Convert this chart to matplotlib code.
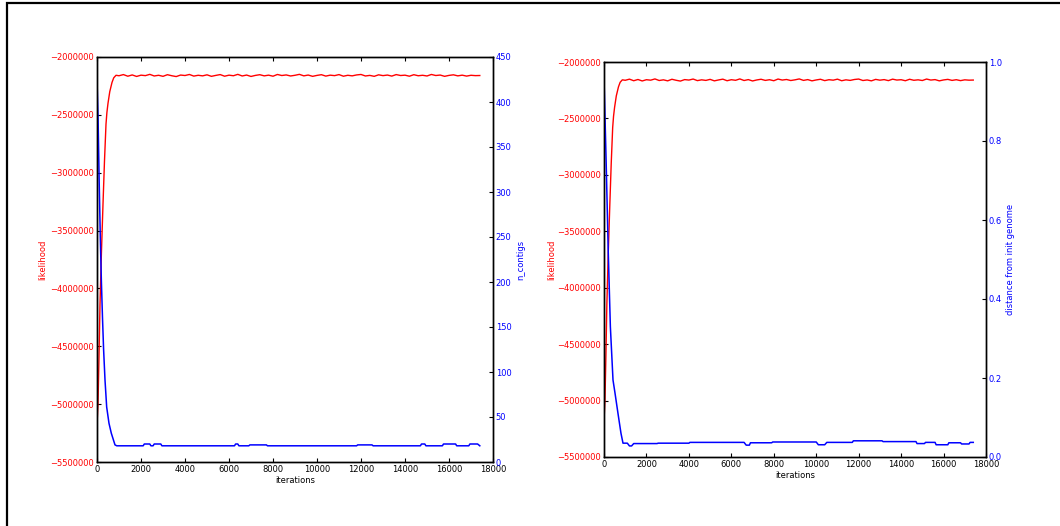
import matplotlib
matplotlib.use('Agg')
import matplotlib.pyplot as plt
from matplotlib.patches import Rectangle

# likelihood (in thousands) vs iterations, same run on both panels
lik_iter = [0, 45, 90, 136, 200, 273, 340, 409, 450, 500, 580, 682, 760, 864,
            1000, 1200, 1400, 1600, 1800, 2000, 2200, 2400, 2600, 2800, 3000,
            3200, 3400, 3600, 3800, 4000, 4200, 4400, 4600, 4800, 5000, 5200,
            5400, 5600, 5800, 6000, 6200, 6400, 6600, 6800, 7000, 7200, 7400,
            7600, 7800, 8000, 8200, 8400, 8600, 8800, 9000, 9200, 9400, 9600,
            9800, 10000, 10200, 10400, 10600, 10800, 11000, 11200, 11400,
            11600, 11800, 12000, 12200, 12400, 12600, 12800, 13000, 13200,
            13400, 13600, 13800, 14000, 14200, 14400, 14600, 14800, 15000,
            15200, 15400, 15600, 15800, 16000, 16200, 16400, 16600, 16800,
            17000, 17200, 17400]
lik_k = [-5180, -5000, -4600, -4140, -3700, -3270, -2900, -2580, -2480, -2400,
         -2300, -2220, -2180, -2158,
         -2162, -2152, -2166, -2155, -2168, -2157, -2161, -2150, -2164, -2158,
         -2167, -2153, -2162, -2169, -2156, -2160, -2151, -2165, -2158, -2163,
         -2154, -2167, -2159, -2152, -2166, -2157, -2162, -2150, -2164, -2156,
         -2168, -2159, -2153, -2163, -2157, -2166, -2151, -2160, -2155, -2164,
         -2158, -2150, -2163, -2156, -2167, -2159, -2153, -2165, -2157, -2161,
         -2152, -2166, -2158, -2163, -2155, -2151, -2164, -2159, -2167, -2154,
         -2161, -2156, -2165, -2152, -2160, -2157, -2166, -2153, -2162, -2158,
         -2164, -2151, -2160, -2156, -2167, -2159, -2154, -2163, -2157, -2165,
         -2158, -2161, -2160]

# n_contigs (left panel)
nc_iter = [0, 50, 100, 150, 200, 250, 300, 364, 440, 545, 650, 818, 900,
           2100, 2150, 2400, 2450, 2550, 2600, 2650, 2900, 2950,
           6250, 6300, 6400, 6450, 6900, 6950, 7700, 7750,
           11800, 11850, 12500, 12550, 14700, 14750, 14900, 14950,
           15700, 15750, 16300, 16350, 16900, 16950, 17300, 17400]
n_contigs = [425, 380, 310, 250, 200, 160, 125, 91, 61, 43, 32, 19, 18,
             18, 20, 20, 18, 18, 20, 20, 20, 18,
             18, 20, 20, 18, 18, 19, 19, 18,
             18, 19, 19, 18, 18, 20, 20, 18,
             18, 20, 20, 18, 18, 20, 20, 18]

# distance from init genome (right panel)
dist_iter = [0, 100, 200, 300, 424, 518, 660, 800, 895, 1100, 1200, 1300, 1400,
             2500, 2550, 4000, 4050, 6600, 6700, 6850, 6900, 7900, 7950,
             10000, 10100, 10400, 10500, 11700, 11750, 13100, 13150,
             14700, 14750, 15100, 15150, 15600, 15650, 16200, 16250,
             16800, 16850, 17200, 17250, 17400]
distance = [0.96, 0.75, 0.52, 0.33, 0.195, 0.162, 0.11, 0.06, 0.035, 0.035,
            0.028, 0.028, 0.034,
            0.034, 0.035, 0.035, 0.037, 0.037, 0.030, 0.030, 0.036, 0.036, 0.038,
            0.038, 0.031, 0.031, 0.037, 0.037, 0.041, 0.041, 0.039,
            0.039, 0.034, 0.034, 0.037, 0.037, 0.031, 0.031, 0.036,
            0.036, 0.033, 0.033, 0.037, 0.037]

x_ticks = [0, 2000, 4000, 6000, 8000, 10000, 12000, 14000, 16000, 18000]
lik_ticks = [-5500000, -5000000, -4500000, -4000000, -3500000, -3000000,
             -2500000, -2000000]
nc_ticks = [0, 50, 100, 150, 200, 250, 300, 350, 400, 450]
dist_ticks = [0.0, 0.2, 0.4, 0.6, 0.8, 1.0]

RED = '#ff0000'
BLUE = '#0000ff'
FS = 6

plt.rcParams['font.family'] = ['DejaVu Sans']
plt.rcParams['xtick.direction'] = 'in'
plt.rcParams['ytick.direction'] = 'in'
plt.rcParams['xtick.major.size'] = 3
plt.rcParams['ytick.major.size'] = 3
plt.rcParams['axes.linewidth'] = 1.0

fig = plt.figure(figsize=(10.6, 5.26), dpi=100)
# black frame around the figure (cut at right and bottom)
fig.patches.append(Rectangle((7 / 1060, -0.1), 1.2, 1 - 3 / 526 + 0.1,
                             transform=fig.transFigure, fill=False,
                             edgecolor='black', linewidth=1.6))


def make_panel(rect, y2_iter, y2_vals, y2_lim, y2_ticks, y2_fmt, y2_label,
               lab_x, lab2_x, xl_y):
    ax = fig.add_axes(rect)
    ax.plot(lik_iter, [v * 1000 for v in lik_k], color=RED, lw=1)
    ax.set_xlim(0, 18000)
    ax.set_ylim(-5500000, -2000000)
    ax.set_xticks(x_ticks)
    ax.set_yticks(lik_ticks)
    ax.set_yticklabels(['\u2212%d' % abs(t) for t in lik_ticks])
    ax.tick_params(axis='x', top=True, labelsize=FS, pad=2)
    ax.tick_params(axis='y', labelsize=FS, labelcolor=RED, pad=2)
    ax.set_ylabel('likelihood', color=RED, fontsize=FS)
    ax.yaxis.set_label_coords(lab_x, 0.5)
    ax.set_xlabel('iterations', fontsize=FS)
    ax.xaxis.set_label_coords(0.5, xl_y)

    ax2 = ax.twinx()
    ax2.plot(y2_iter, y2_vals, color=BLUE, lw=1.1)
    ax2.set_ylim(*y2_lim)
    ax2.set_yticks(y2_ticks)
    ax2.set_yticklabels([y2_fmt % t for t in y2_ticks])
    ax2.tick_params(axis='y', labelsize=FS, labelcolor=BLUE, pad=2)
    ax2.set_ylabel(y2_label, color=BLUE, fontsize=FS)
    ax2.yaxis.set_label_coords(lab2_x, 0.5)
    ax2.set_xlim(0, 18000)
    return ax, ax2


make_panel([97 / 1060, 1 - 462 / 526, 396 / 1060, 405 / 526],
           nc_iter, n_contigs, (0, 450), nc_ticks, '%d', 'n_contigs',
           -0.125, 1.058, -0.035)
make_panel([604 / 1060, 1 - 457 / 526, 382 / 1060, 395 / 526],
           dist_iter, distance, (0, 1.0), dist_ticks, '%.1f',
           'distance from init genome', -0.125, 1.052, -0.035)

fig.savefig('out.png', dpi=100)
